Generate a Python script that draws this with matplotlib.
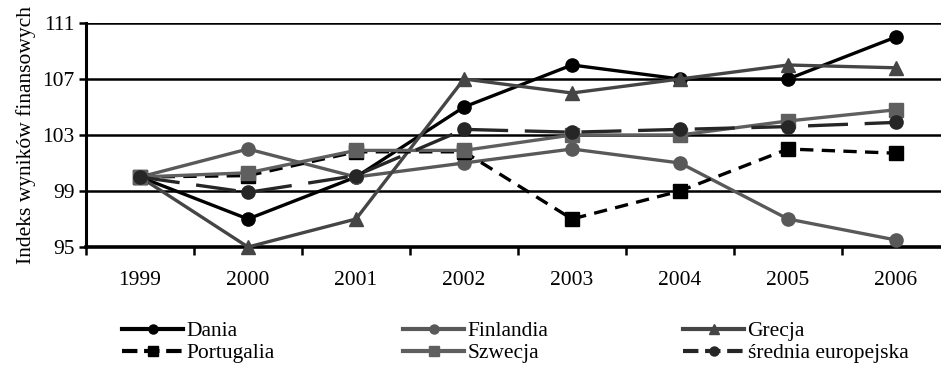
import matplotlib
matplotlib.use("Agg")
import matplotlib.pyplot as plt
from matplotlib.lines import Line2D

years = ["1999", "2000", "2001", "2002", "2003", "2004", "2005", "2006"]
dania = [100, 97, 100, 105, 108, 107, 107, 110]
finlandia = [100, 102, 100, 101, 102, 101, 97, 95.5]
grecja = [100, 95, 97, 107, 106, 107, 108, 107.8]
portugalia = [100, 100.1, 101.8, 101.8, 97, 99, 102, 101.7]
szwecja = [100, 100.3, 101.9, 101.9, 103, 103, 104, 104.8]
srednia = [100, 98.9, 100.1, 103.4, 103.2, 103.4, 103.6, 103.9]
yticks = [95, 99, 103, 107, 111]

plt.rcParams['font.family'] = ['Liberation Serif', 'DejaVu Serif']

W, H = 941, 366
fig = plt.figure(figsize=(W / 100, H / 100), dpi=100)
ax = fig.add_axes([86 / W, 1 - 247 / H, (950 - 86) / W, (247 - 23) / H])

x = list(range(len(years)))
series = [
    ("Dania", dania, dict(color="#000000", marker="o", ls="-")),
    ("Finlandia", finlandia, dict(color="#595959", marker="o", ls="-")),
    ("Grecja", grecja, dict(color="#454545", marker="^", ls="-")),
    ("Portugalia", portugalia, dict(color="#000000", marker="s", ls=(0, (4, 2.5)))),
    ("Szwecja", szwecja, dict(color="#5f5f5f", marker="s", ls="-")),
    ("średnia europejska", srednia, dict(color="#262626", marker="o", ls=(0, (12, 5)))),
]
handles = {}
for i, (name, vals, st) in enumerate(series):
    (ln,) = ax.plot(x, vals, color=st["color"], marker=st["marker"], linestyle=st["ls"],
                    lw=2.4, markersize=9.5, zorder=3 + i, clip_on=False, label=name)
    handles[name] = ln

ax.set_xlim(-0.5, 7.5)
ax.set_ylim(95, 111)
ax.set_yticks(yticks)
ax.set_yticklabels([str(v) for v in yticks], fontsize=15.5)
for v in yticks[1:]:
    ax.axhline(v, color="black", lw=1.8, zorder=1)

ax.set_xticks(x)
ax.set_xticklabels(years, fontsize=15.5)
ax.set_xticks([i - 0.5 for i in range(len(years) + 1)], minor=True)
ax.tick_params(axis="x", which="major", length=0, pad=17)
ax.tick_params(axis="x", which="minor", length=6, width=1.8, direction="out")
ax.tick_params(axis="y", length=5, width=1.8, direction="out", pad=3)

for s in ["top", "right"]:
    ax.spines[s].set_visible(False)
ax.spines["left"].set_linewidth(2.2)
ax.spines["bottom"].set_linewidth(2.6)

ax.set_ylabel("Indeks wyników finansowych", fontsize=15.5, labelpad=5)

cols = [("Dania", "Portugalia"), ("Finlandia", "Szwecja"), ("Grecja", "średnia europejska")]
col_x = [122, 403, 683]
for cx, names in zip(col_x, cols):
    hs = []
    for n in names:
        h = handles[n]
        hs.append(Line2D([], [], color=h.get_color(), lw=3, linestyle=h.get_linestyle(),
                         marker=h.get_marker(), markersize=6.5))
    fig.legend(hs, names, loc="upper left", bbox_to_anchor=(cx / W, 1 - 321 / H),
               frameon=False, fontsize=15.5, handlelength=2.85, handletextpad=0.15,
               labelspacing=0.1, borderpad=0, borderaxespad=0, numpoints=1)

fig.savefig("out.png", dpi=100)
